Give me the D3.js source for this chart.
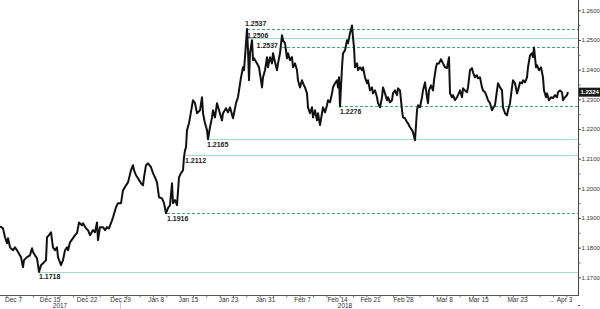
<!DOCTYPE html>
<html><head><meta charset="utf-8">
<script src="https://cdn.jsdelivr.net/npm/d3@7"></script>
<style>body{margin:0;background:#fff}svg{display:block}</style>
</head><body>
<svg id="c" width="600" height="309"></svg>
<script>
// trading-day offsets from Dec 7 2017 and EUR/USD level
const tradingDay = [
 -1.95,-1.5,-1.2,-0.9,-0.75,-0.45,0,0.3,0.6,0.75,
 1.2,1.5,1.65,2.1,2.55,2.85,3.0,3.3,3.6,3.9,
 4.2,4.5,4.95,5.1,5.4,5.7,5.85,6.0,6.3,6.6,
 6.75,7.2,7.5,7.8,8.1,8.25,8.55,9.0,9.3,9.6,
 9.9,10.35,10.5,10.95,11.25,11.55,12.0,12.3,12.6,12.75,
 13.05,13.5,13.8,14.1,14.4,14.85,15.0,15.45,15.75,16.2,
 16.5,16.95,17.25,17.7,18.0,18.15,18.45,18.75,19.2,19.5,
 19.65,19.95,20.25,20.7,21.0,21.3,21.6,21.9,22.35,22.65,
 22.95,23.25,23.55,23.85,24.0,24.3,24.6,24.9,25.2,25.5,
 25.65,25.8,25.95,26.1,26.4,27.0,27.3,27.6,28.05,
 28.35,28.5,28.8,29.1,29.25,29.55,29.85,30.0,30.3,30.6,
 30.9,31.35,31.5,31.95,32.25,32.55,33.0,33.15,33.45,33.75,
 33.9,34.2,34.5,34.65,34.8,35.1,35.25,35.4,35.55,35.85,
 36.0,36.15,36.6,36.9,37.2,37.35,37.5,37.8,38.1,38.25,
 38.55,38.85,39.0,39.3,39.6,39.75,40.05,40.35,40.5,40.8,
 41.1,41.25,41.55,41.85,42.0,42.3,42.6,42.75,43.05,43.35,
 43.5,43.8,44.1,44.25,44.55,44.85,45.0,45.3,45.6,45.75,
 46.05,46.35,46.5,46.8,47.1,47.25,47.55,47.85,48.0,48.3,
 48.6,48.75,48.9,49.05,49.35,49.5,49.8,50.1,50.25,50.55,
 50.85,51.0,51.15,51.3,51.6,51.75,52.05,52.35,52.5,52.8,
 53.1,53.25,53.55,53.85,54.0,54.3,54.6,54.75,55.05,55.35,
 55.5,55.8,56.1,56.25,56.55,56.85,57.0,57.3,57.6,57.75,
 58.05,58.35,58.5,58.8,59.1,59.25,59.55,59.85,60.0,60.3,
 60.6,60.75,61.05,61.35,61.5,61.8,62.1,62.25,62.4,62.7,
 63.0,63.15,63.45,63.6,63.9,64.2,64.5,64.8,65.1,65.4,
 65.55,65.85,66.0,66.3,66.6,66.75,67.05,67.35,67.5,67.8,
 68.1,68.25,68.55,68.85,69.0,69.3,69.6,69.75,70.05,70.35,
 70.5,70.8,71.1,71.25,71.55,71.85,72.0,72.3,72.6,72.75,
 73.05,73.35,73.5,73.8,74.1,74.25,74.55,74.85,75.0,75.3,
 75.6,75.75,76.05,76.35,76.5,76.8,77.1,77.25,77.55,77.85,
 78.0,78.15,78.45,78.6,78.9,79.2,79.5,79.65,79.95,80.1,
 80.4,80.7,81.0,81.3,81.6,81.75,82.05,82.35,82.5,82.8,
 83.1,83.25
];
const price = [
 1.1872,1.1865,1.1835,1.1815,1.1832,1.1801,1.1791,1.1801,1.1791,1.1785,
 1.1768,1.1734,1.1758,1.1768,1.1774,1.1798,1.1785,1.1774,1.1764,1.1718,
 1.1741,1.1747,1.1758,1.1835,1.1842,1.1852,1.1825,1.1801,1.1791,1.1801,
 1.1768,1.1741,1.1758,1.1791,1.1801,1.1791,1.1818,1.1832,1.1842,1.1849,
 1.1885,1.1875,1.1882,1.1865,1.1859,1.1842,1.1859,1.1852,1.1885,1.1825,
 1.1869,1.1869,1.1859,1.1869,1.1865,1.1892,1.1902,1.1936,1.1950,1.1950,
 1.1993,1.2010,1.2020,1.2061,1.2078,1.2061,1.2044,1.2034,1.2017,1.2010,
 1.2037,1.2078,1.2084,1.2071,1.2051,1.2037,1.2020,1.1970,1.1966,1.1950,
 1.1916,1.1933,1.1943,1.2017,1.1950,1.1960,1.1943,1.2037,1.2051,1.2061,
 1.2105,1.2128,1.2138,1.2196,1.2219,1.2297,1.2287,1.2253,1.2263,
 1.2307,1.2253,1.2219,1.2196,1.2165,1.2206,1.2239,1.2263,1.2239,1.2287,
 1.2263,1.2229,1.2253,1.2270,1.2256,1.2273,1.2236,1.2253,1.2287,1.2307,
 1.2330,1.2374,1.2408,1.2398,1.2442,1.2537,1.2465,1.2364,1.2455,1.2499,
 1.2432,1.2438,1.2421,1.2408,1.2364,1.2340,1.2374,1.2398,1.2442,1.2408,
 1.2442,1.2421,1.2455,1.2425,1.2398,1.2421,1.2455,1.2516,1.2499,1.2489,
 1.2438,1.2455,1.2432,1.2442,1.2408,1.2421,1.2398,1.2364,1.2340,1.2364,
 1.2354,1.2340,1.2320,1.2273,1.2253,1.2273,1.2239,1.2263,1.2229,1.2253,
 1.2213,1.2253,1.2273,1.2256,1.2280,1.2297,1.2290,1.2320,1.2340,1.2354,
 1.2364,1.2340,1.2374,1.2276,1.2408,1.2455,1.2465,1.2499,1.2489,1.2523,
 1.2549,1.2509,1.2475,1.2408,1.2421,1.2398,1.2408,1.2398,1.2408,1.2374,
 1.2354,1.2364,1.2330,1.2340,1.2320,1.2330,1.2307,1.2287,1.2273,1.2307,
 1.2340,1.2320,1.2297,1.2307,1.2290,1.2297,1.2320,1.2330,1.2314,1.2337,
 1.2330,1.2263,1.2239,1.2236,1.2223,1.2219,1.2206,1.2196,1.2189,1.2162,
 1.2263,1.2280,1.2273,1.2307,1.2330,1.2357,1.2307,1.2287,1.2330,1.2347,
 1.2330,1.2364,1.2408,1.2421,1.2421,1.2435,1.2421,1.2408,1.2405,1.2442,
 1.2320,1.2307,1.2314,1.2297,1.2307,1.2314,1.2330,1.2307,1.2337,1.2330,
 1.2324,1.2340,1.2398,1.2405,1.2391,1.2374,1.2381,1.2371,1.2374,1.2340,
 1.2330,1.2324,1.2307,1.2297,1.2287,1.2263,1.2270,1.2280,1.2330,1.2354,
 1.2340,1.2330,1.2273,1.2253,1.2246,1.2263,1.2287,1.2340,1.2364,1.2354,
 1.2320,1.2330,1.2357,1.2354,1.2364,1.2357,1.2374,1.2408,1.2448,1.2455,
 1.2442,1.2475,1.2408,1.2415,1.2398,1.2408,1.2374,1.2330,1.2307,1.2320,
 1.2297,1.2307,1.2304,1.2314,1.2307,1.2324,1.2330,1.2324,1.2297,1.2307,
 1.2314,1.2324
];

const levelValues  = [1.2537, 1.2506, 1.2475, 1.2276, 1.2165, 1.2112, 1.1916, 1.1718];
const levelLabels  = ["1.2537","1.2506","1.2537","1.2276","1.2165","1.2112","1.1916","1.1718"];
const levelStart   = [35.1, 35.1, 40.35, 49.05, 29.1, 25.8, 23.1, 3.9];
const levelDashed  = [true, false, true, true, false, false, true, false];
const levelLabelAt = ["above","on","left","below","below","below","below","below"];

const xTickPos    = [0, 5.5, 11.05, 16.05, 21.4, 26.25, 32.25, 37.8, 43.35, 48.6, 53.55, 58.5, 64.65, 69.75, 75.6, 80.7, 82.65];
const xTickLabels = ["Dec 7","Dec 15","Dec 22","Dec 29","Jan 8","Jan 15","Jan 23","Jan 31","Feb 7","Feb 14","Feb 21","Feb 28","Mar 8","Mar 15","Mar 23","..","Apr 3"];
const yearLabels  = ["2017","2018"];
const yearPos     = [7.05, 49.8];
const yTicks      = [1.17,1.18,1.19,1.20,1.21,1.22,1.23,1.24,1.25,1.26];
const lastPrice   = 1.2324;

const svg = d3.select("#c");
const x = d3.scaleLinear().domain([-1.95, 84.75]).range([0, 578]);
const y = d3.scaleLinear().domain([1.17, 1.26]).range([277.3, 10.3]);
const font = "Liberation Sans, Arial, sans-serif";

// level lines
levelValues.forEach((v, i) => {
  const yy = Math.round(y(v)) + 0.5;
  svg.append("line")
    .attr("x1", x(levelStart[i])).attr("x2", 578)
    .attr("y1", yy).attr("y2", yy)
    .attr("stroke", levelDashed[i] ? "#3fa57f" : "#a3dbc8")
    .attr("stroke-width", 1)
    .attr("stroke-dasharray", levelDashed[i] ? "3,2" : null);
});

// price line
const pts = d3.zip(tradingDay, price);
svg.append("path")
  .datum(pts)
  .attr("d", d3.line().x(d => x(d[0])).y(d => y(d[1])))
  .attr("fill", "none")
  .attr("stroke", "#111")
  .attr("stroke-width", 2)
  .attr("stroke-linejoin", "round");

// level labels
levelValues.forEach((v, i) => {
  const yy = y(v);
  const pos = levelLabelAt[i];
  let tx = x(levelStart[i]), ty = yy + 7.5, anchor = "start";
  if (pos === "above") { tx -= 2; ty = yy - 2.5; }
  if (pos === "on") { ty = yy - 0.5; }
  if (pos === "left") { tx -= 4; ty = yy + 0.5; anchor = "end"; }
  svg.append("text")
    .attr("x", tx).attr("y", ty)
    .attr("text-anchor", anchor)
    .attr("font-family", font).attr("font-size", 7).attr("font-weight", "bold")
    .attr("fill", "#222")
    .text(levelLabels[i]);
});

// right axis
svg.append("line").attr("x1", 578.5).attr("x2", 578.5).attr("y1", 0).attr("y2", 296)
  .attr("stroke", "#444").attr("stroke-width", 1);
const ya = svg.append("g").attr("transform", "translate(578.5,0)")
  .call(d3.axisRight(y).tickValues(yTicks).tickFormat(d3.format(".4f")).tickSize(2.5).tickPadding(0.5));
ya.select(".domain").remove();
ya.selectAll("line").attr("stroke", "#444");
ya.selectAll("text").attr("font-family", font).attr("font-size", 6).attr("fill", "#333");
const yMinor = yTicks.slice(0, -1).map(t => t + 0.005);
const ym = svg.append("g").attr("transform", "translate(578.5,0)")
  .call(d3.axisRight(y).tickValues(yMinor).tickFormat("").tickSize(2));
ym.select(".domain").remove();
ym.selectAll("line").attr("stroke", "#666");

// last price box
const ly = y(lastPrice);
svg.append("rect").attr("x", 579).attr("y", ly - 4.5).attr("width", 21).attr("height", 9).attr("fill", "#1a1a1a");
svg.append("text").attr("x", 580.5).attr("y", ly + 2.2)
  .attr("font-family", font).attr("font-size", 6).attr("font-weight", "bold").attr("fill", "#fff")
  .text(lastPrice.toFixed(4));

// bottom axis
svg.append("line").attr("x1", 0).attr("x2", 579).attr("y1", 295.5).attr("y2", 295.5)
  .attr("stroke", "#555").attr("stroke-width", 1);
const xMinor = d3.range(-1, 84, 2);
const xm = svg.append("g").attr("transform", "translate(0,295.5)")
  .call(d3.axisBottom(x).tickValues(xMinor).tickFormat("").tickSize(2));
xm.select(".domain").remove();
xm.selectAll("line").attr("stroke", "#777");
const xa = svg.append("g").attr("transform", "translate(0,295.5)")
  .call(d3.axisBottom(x).tickValues(xTickPos).tickFormat((d, i) => xTickLabels[i]).tickSize(0).tickPadding(2));
xa.select(".domain").remove();
xa.selectAll("text").attr("font-family", font).attr("font-size", 6.5).attr("fill", "#333");

yearLabels.forEach((t, i) => {
  svg.append("text").attr("x", x(yearPos[i])).attr("y", 308).attr("text-anchor", "middle")
    .attr("font-family", font).attr("font-size", 6.5).attr("fill", "#333").text(t);
});
// year separator and small mark
svg.append("line").attr("x1", 120.5).attr("x2", 120.5).attr("y1", 302).attr("y2", 309)
  .attr("stroke", "#ccc").attr("stroke-width", 1);
svg.append("line").attr("x1", 578).attr("x2", 580).attr("y1", 305.5).attr("y2", 305.5)
  .attr("stroke", "#555").attr("stroke-width", 1);
</script>
</body></html>
